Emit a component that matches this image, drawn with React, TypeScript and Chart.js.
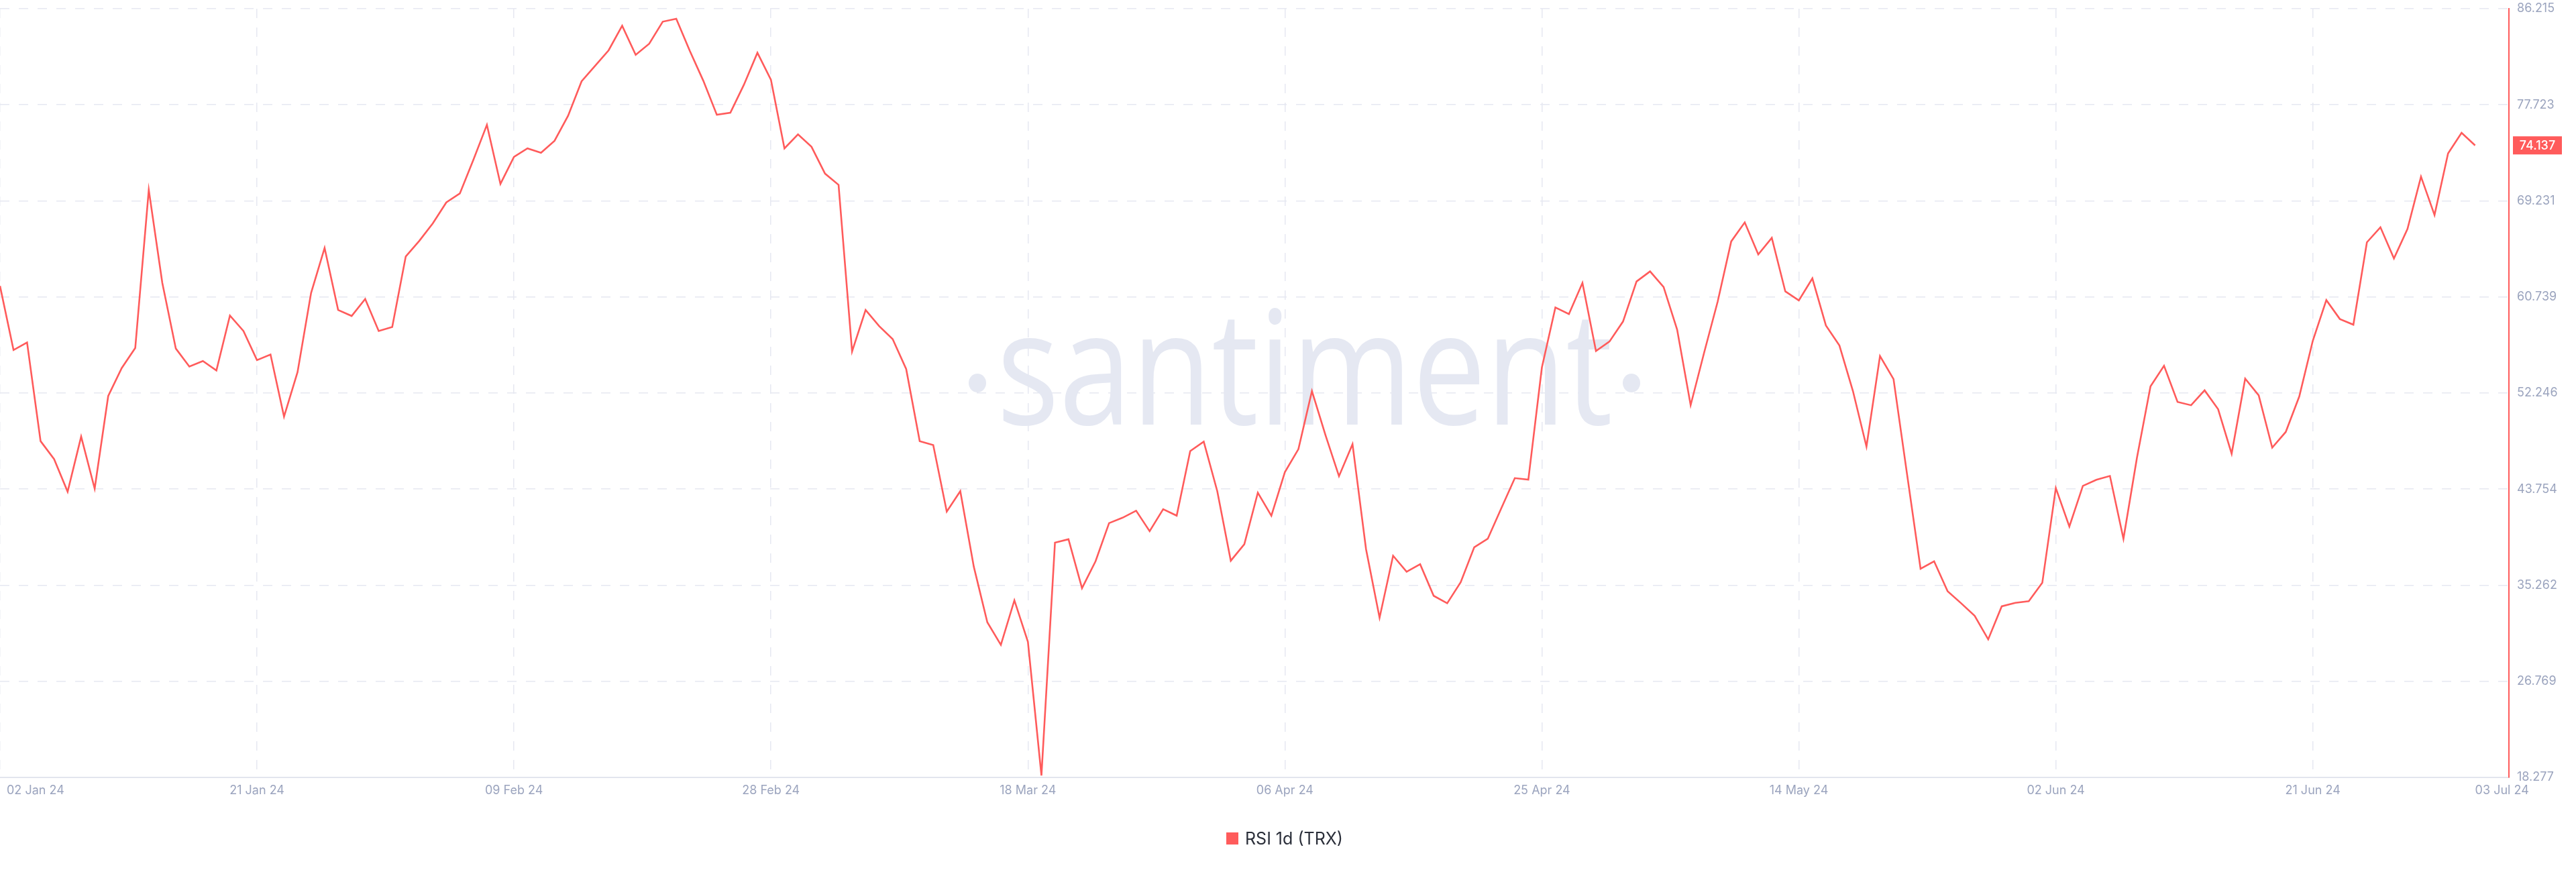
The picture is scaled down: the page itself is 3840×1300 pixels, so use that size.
import React, { useEffect, useRef } from 'react';
import { Chart, registerables } from 'chart.js';

Chart.register(...registerables);

// Day index (0 = 02 Jan 24) of each labelled x tick
const TICK_DAYS = [0, 19, 38, 57, 76, 95, 114, 133, 152, 171, 183];
const TICK_LABELS = [
  '02 Jan 24', '21 Jan 24', '09 Feb 24', '28 Feb 24', '18 Mar 24', '06 Apr 24',
  '25 Apr 24', '14 May 24', '02 Jun 24', '21 Jun 24', '03 Jul 24',
];
const Y_TICKS = [18.277, 26.769, 35.262, 43.754, 52.246, 60.739, 69.231, 77.723, 86.215];
const SERIES_LABEL = 'RSI 1d (TRX)';

// Daily RSI values, 02 Jan 24 .. 03 Jul 24
const RSI = [
  61.71, 56.05, 56.72, 48.0, 46.41, 43.53, 48.4, 43.8, 51.98, 54.46,
  56.23, 70.2, 61.98, 56.18, 54.59, 55.08, 54.24, 59.1, 57.73, 55.16,
  55.65, 50.17, 54.1, 61.09, 65.07, 59.59, 59.06, 60.56, 57.73, 58.08,
  64.32, 65.7, 67.24, 69.1, 69.89, 72.86, 75.95, 70.73, 73.12, 73.87,
  73.48, 74.54, 76.75, 79.8, 81.17, 82.54, 84.71, 82.14, 83.12, 85.07,
  85.33, 82.5, 79.85, 76.84, 77.02, 79.49, 82.32, 79.93, 73.87, 75.11,
  74.01, 71.64, 70.65, 55.92, 59.59, 58.17, 57.02, 54.37, 48.0, 47.65,
  41.77, 43.58, 36.9, 31.99, 29.99, 33.93, 30.26, 18.45, 39.02, 39.33,
  35.0, 37.38, 40.75, 41.23, 41.85, 40.04, 41.98, 41.41, 47.12, 47.95,
  43.58, 37.43, 38.89, 43.44, 41.41, 45.26, 47.29, 52.42, 48.53, 44.9,
  47.73, 38.45, 32.39, 37.87, 36.46, 37.12, 34.33, 33.67, 35.53, 38.62,
  39.37, 42.07, 44.73, 44.59, 54.5, 59.81, 59.23, 61.98, 55.96, 56.8,
  58.57, 62.11, 63.0, 61.62, 57.86, 51.18, 55.83, 60.34, 65.65, 67.33,
  64.5, 65.96, 61.23, 60.43, 62.38, 58.22, 56.45, 52.42, 47.52, 55.52,
  53.48, 45.08, 36.72, 37.38, 34.73, 33.67, 32.56, 30.48, 33.4, 33.71,
  33.85, 35.48, 43.85, 40.45, 44.04, 44.58, 44.92, 39.37, 46.54, 52.84,
  54.66, 51.46, 51.17, 52.49, 50.82, 46.89, 53.52, 52.05, 47.43, 48.81,
  51.95, 56.87, 60.46, 58.79, 58.29, 65.57, 66.9, 64.14, 66.75, 71.37,
  67.98, 73.43, 75.25, 74.137,
];

const RED = '#ff5b5b';
const GRID = '#e6e8f1';
const AXIS_TEXT = '#9ba4be';
const FONT = 'Inter, "Noto Sans", sans-serif';

export default function App() {
  const ref = useRef<HTMLCanvasElement>(null);

  useEffect(() => {
    document.body.style.margin = '0';
    const canvas = ref.current as HTMLCanvasElement;

    const overlay = {
      id: 'overlay',
      beforeDatasetsDraw(chart: any) {
        const ctx = chart.ctx as CanvasRenderingContext2D;
        ctx.save();
        ctx.fillStyle = '#e5e8f2';
        ctx.font = `400 236px "Open Sans", sans-serif`;
        ctx.textBaseline = 'alphabetic';
        ctx.textAlign = 'left';
        const word = 'santiment';
        const w = ctx.measureText(word).width;
        ctx.translate(1486, 633);
        ctx.scale(918 / w, 1);
        ctx.fillText(word, 0, 0);
        ctx.restore();
        ctx.save();
        ctx.fillStyle = '#e5e8f2';
        for (const cx of [1457, 2432]) {
          ctx.beginPath();
          ctx.ellipse(cx, 571, 13, 14, 0, 0, Math.PI * 2);
          ctx.fill();
        }
        ctx.restore();
      },
      afterDraw(chart: any) {
        const ctx = chart.ctx as CanvasRenderingContext2D;
        const xs = chart.scales.x;
        const ys = chart.scales.y;
        const area = chart.chartArea;
        ctx.save();
        // x tick labels
        ctx.fillStyle = AXIS_TEXT;
        ctx.font = `400 18px ${FONT}`;
        ctx.textBaseline = 'middle';
        const ly = area.bottom + 20;
        TICK_DAYS.forEach((d, i) => {
          const px = xs.getPixelForValue(d);
          if (i === 0) {
            ctx.textAlign = 'left';
            ctx.fillText(TICK_LABELS[i], px + 10, ly);
          } else if (i === TICK_DAYS.length - 1) {
            ctx.textAlign = 'left';
            ctx.fillText(TICK_LABELS[i], px, ly);
          } else {
            ctx.textAlign = 'center';
            ctx.fillText(TICK_LABELS[i], px, ly);
          }
        });
        // current value tag
        const last = RSI[RSI.length - 1];
        const ty = ys.getPixelForValue(last);
        ctx.fillStyle = RED;
        ctx.fillRect(area.right + 6, ty - 13.5, 73, 27);
        ctx.fillStyle = '#ffffff';
        ctx.font = `500 18px ${FONT}`;
        ctx.textAlign = 'center';
        ctx.fillText(last.toFixed(3), area.right + 42.5, ty + 1);
        // legend
        ctx.fillStyle = RED;
        ctx.fillRect(1828, 1241, 18, 18);
        ctx.fillStyle = '#2b2f3a';
        ctx.font = `400 25px ${FONT}`;
        ctx.textAlign = 'left';
        ctx.fillText(SERIES_LABEL, 1856, 1251);
        ctx.restore();
      },
    };

    const chart = new Chart(canvas, {
      type: 'line',
      data: {
        datasets: [
          {
            label: SERIES_LABEL,
            data: RSI.map((v, i) => ({ x: i, y: v })),
            borderColor: RED,
            backgroundColor: RED,
            borderWidth: 2.6,
            pointRadius: 0,
            tension: 0,
            fill: false,
          },
        ],
      },
      options: {
        animation: false,
        responsive: false,
        devicePixelRatio: 1,
        layout: { padding: { top: 13, left: 0, right: 0, bottom: 0 } },
        plugins: { legend: { display: false }, tooltip: { enabled: false } },
        scales: {
          x: {
            type: 'linear',
            min: 0,
            max: 185.5,
            afterBuildTicks: (s: any) => {
              s.ticks = TICK_DAYS.map((v) => ({ value: v }));
            },
            afterFit: (s: any) => {
              s.height = 141;
              s.paddingLeft = 0;
              s.paddingRight = 0;
            },
            ticks: { display: false },
            grid: {
              color: (c: any) => (c.tick && c.tick.value === 183 ? 'rgba(0,0,0,0)' : GRID),
              lineWidth: 1.5,
              drawTicks: false,
            },
            border: { display: true, color: '#e2e5ee', width: 2, dash: [14, 14] },
          },
          y: {
            type: 'linear',
            position: 'right',
            min: 18.277,
            max: 86.215,
            afterBuildTicks: (s: any) => {
              s.ticks = Y_TICKS.map((v) => ({ value: v }));
            },
            afterFit: (s: any) => {
              s.width = 100;
              s.paddingTop = 0;
              s.paddingBottom = 0;
            },
            ticks: {
              padding: 12,
              color: AXIS_TEXT,
              font: { family: FONT, size: 18 },
              callback: (v: any) => Number(v).toFixed(3),
            },
            grid: { color: GRID, lineWidth: 1.5, drawTicks: false },
            border: { display: true, color: RED, width: 2, dash: [14, 14] },
          },
        },
      },
      plugins: [overlay],
    } as any);

    return () => chart.destroy();
  }, []);

  return (
    <div style={{ width: 3840, height: 1300, background: '#ffffff' }}>
      <canvas ref={ref} width={3840} height={1300} style={{ display: 'block' }} />
    </div>
  );
}
